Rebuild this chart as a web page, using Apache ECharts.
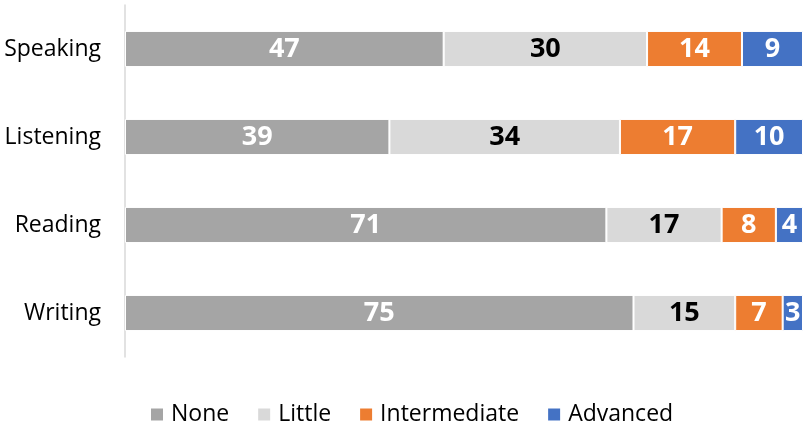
<!DOCTYPE html>
<html><head><meta charset="utf-8">
<script src="https://cdn.jsdelivr.net/npm/echarts@6/dist/echarts.min.js"></script>
<style>html,body{margin:0;padding:0;background:#fff}#c{width:803px;height:424px}</style>
</head><body><div id="c"></div>
<script>
const categories = ['Speaking','Listening','Reading','Writing'];
const seriesNames = ['None','Little','Intermediate','Advanced'];
const noneVals = [47,39,71,75];
const littleVals = [30,34,17,15];
const intermediateVals = [14,17,8,7];
const advancedVals = [9,10,4,3];
const colors = ['#A5A5A5','#D9D9D9','#ED7D31','#4472C4'];
const labelColors = ['#fff','#000','#fff','#fff'];
const font = '"Open Sans", sans-serif';
const allVals = [noneVals, littleVals, intermediateVals, advancedVals];
const chart = echarts.init(document.getElementById('c'));
chart.setOption({
  animation:false,
  grid:{left:125,right:0,top:5,bottom:67,containLabel:false},
  legend:{top:398,left:144,itemWidth:14,itemHeight:14,itemGap:27,icon:'rect',
    textStyle:{fontFamily:font,fontSize:23,color:'#000',padding:[0,0,0,2]},data:seriesNames},
  xAxis:{type:'value',min:0,max:100,show:false},
  yAxis:{type:'category',inverse:true,data:categories,
    axisLine:{lineStyle:{color:'#D9D9D9',width:1.5}},axisTick:{show:false},
    axisLabel:{fontFamily:font,fontSize:23,color:'#000',margin:24}},
  series: seriesNames.map((n,i)=>({
    name:n,type:'bar',stack:'s',barWidth:'41%',data:allVals[i],
    itemStyle:{color:colors[i],borderColor:'#fff',borderWidth:1},
    label:{show:true,position:'inside',color:labelColors[i],fontFamily:font,fontWeight:'bold',fontSize:27}
  }))
});
</script></body></html>
